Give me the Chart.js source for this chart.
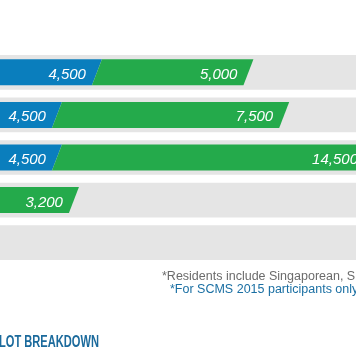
<!DOCTYPE html>
<html>
<head>
<meta charset="utf-8">
<script src="https://cdn.jsdelivr.net/npm/chart.js@4.4.1/dist/chart.umd.min.js"></script>
<style>
  html, body { margin: 0; padding: 0; background: #ffffff; }
  #wrap { width: 356px; height: 364px; position: relative; }
</style>
</head>
<body>
<div id="wrap"><canvas id="c"></canvas></div>
<script>
// ---- data ----
const categories = ['Category 1', 'Category 2', 'Category 3', 'Category 4', 'Category 5'];
const barStart = [-1300, -2620, -2620, -760, null];      // floating-bar start values
const blueValues = [4500, 4500, 4500, null, null];
const greenValues = [5000, 7500, 14500, 3200, null];
const axisMin = 0;
const axisMax = 11750;
const footnote1 = '*Residents include Singaporean, Singapore PR';
const footnote2 = '*For SCMS 2015 participants only';
const heading = 'BALLOT BREAKDOWN';

// ---- styles ----
const BLUE = '#0a7ebd';
const GREEN = '#24aa4b';
const GREY = '#e5e5e5';

const trackData = categories.map(() => [axisMin, axisMax]);
const blueData = categories.map((c, i) =>
  (barStart[i] != null && blueValues[i] != null) ? [barStart[i], barStart[i] + blueValues[i]] : null);
const greenData = categories.map((c, i) => {
  if (barStart[i] == null || greenValues[i] == null) return null;
  const s = barStart[i] + (blueValues[i] || 0);
  return [s, s + greenValues[i]];
});

const fmt = v => v.toLocaleString('en-US');

const slantPlugin = {
  id: 'slant',
  beforeDatasetDraw(chart, args) {
    const ds = chart.data.datasets[args.index];
    if (!ds.slanted) return;
    const ctx = chart.ctx;
    ctx.save();
    ctx.fillStyle = ds.backgroundColor;
    args.meta.data.forEach((el, i) => {
      if (ds.data[i] == null) return;
      const h = el.height;
      const left = Math.min(el.x, el.base), right = Math.max(el.x, el.base);
      const top = el.y - h / 2, bot = el.y + h / 2;
      const s = h * 5 / 26;
      ctx.beginPath();
      ctx.moveTo(left + s, top);
      ctx.lineTo(right + s, top);
      ctx.lineTo(right - s, bot);
      ctx.lineTo(left - s, bot);
      ctx.closePath();
      ctx.fill();
    });
    ctx.restore();
    return false;
  },
  afterDatasetsDraw(chart) {
    const ctx = chart.ctx;
    const area = chart.chartArea;
    ctx.save();
    ctx.fillStyle = '#ffffff';
    ctx.font = 'italic 15px "Liberation Sans", Arial, sans-serif';
    ctx.textAlign = 'right';
    ctx.textBaseline = 'alphabetic';
    chart.data.datasets.forEach((ds, di) => {
      if (!ds.slanted) return;
      const meta = chart.getDatasetMeta(di);
      meta.data.forEach((el, i) => {
        if (ds.data[i] == null) return;
        const v = ds.values[i];
        const right = Math.max(el.x, el.base);
        const endX = Math.min(right, area.right + 13);
        ctx.fillText(fmt(v), endX - 11, el.y + 6.5);
      });
    });
    ctx.restore();
  },
  afterDraw(chart) {
    const ctx = chart.ctx;
    ctx.save();
    ctx.textAlign = 'left';
    ctx.textBaseline = 'alphabetic';
    ctx.font = '12.5px "Liberation Sans", Arial, sans-serif';
    ctx.fillStyle = '#6b6b6b';
    ctx.fillText(footnote1, 162, 279.5);
    ctx.fillStyle = '#1a6fa3';
    ctx.fillText(footnote2, 170, 292.5);
    // heading: condensed bold, right edge at x=99
    ctx.font = 'bold 16px "Liberation Sans", Arial, sans-serif';
    ctx.fillStyle = '#1b6a9c';
    ctx.textAlign = 'right';
    const visiblePart = 'LOT BREAKDOWN';
    const sx = 100 / ctx.measureText(visiblePart).width;
    ctx.translate(99, 346.5);
    ctx.scale(sx, 1);
    ctx.fillText(heading, 0, 0);
    ctx.restore();
  }
};

new Chart(document.getElementById('c'), {
  type: 'bar',
  data: {
    labels: categories,
    datasets: [
      { label: 'track', data: trackData, backgroundColor: GREY, barThickness: 34, grouped: false, order: 3 },
      { label: 'blue', data: blueData, values: blueValues, backgroundColor: BLUE, barThickness: 26, grouped: false, order: 2, slanted: true },
      { label: 'green', data: greenData, values: greenValues, backgroundColor: GREEN, barThickness: 26, grouped: false, order: 1, slanted: true }
    ]
  },
  options: {
    indexAxis: 'y',
    responsive: true,
    maintainAspectRatio: false,
    animation: false,
    layout: { padding: { top: 51, bottom: 100, left: 0, right: 0 } },
    scales: {
      x: { display: false, min: axisMin, max: axisMax },
      y: { display: false, offset: true }
    },
    plugins: {
      legend: { display: false },
      tooltip: { enabled: false },
      title: { display: false }
    }
  },
  plugins: [slantPlugin]
});
</script>
</body>
</html>
